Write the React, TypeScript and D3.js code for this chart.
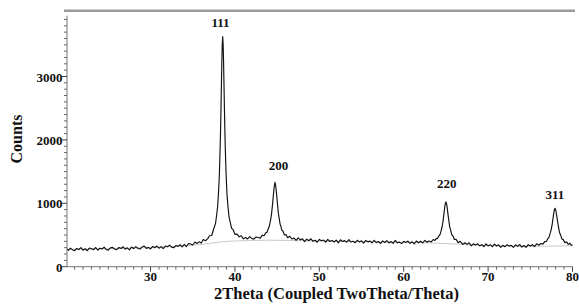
import React from "react";
import * as d3 from "d3";

// diffraction pattern
const twoTheta = [
  20.1, 20.25, 20.5, 20.75, 21.0, 21.25, 21.5, 21.75, 22.0, 22.25, 22.5, 22.75, 23.0, 23.25, 23.5, 23.75,
  24.0, 24.25, 24.5, 24.75, 25.0, 25.25, 25.5, 25.75, 26.0, 26.25, 26.5, 26.75, 27.0, 27.25, 27.5, 27.75,
  28.0, 28.25, 28.5, 28.75, 29.0, 29.25, 29.5, 29.75, 30.0, 30.25, 30.5, 30.75, 31.0, 31.25, 31.5, 31.75,
  32.0, 32.25, 32.5, 32.75, 33.0, 33.25, 33.5, 33.75, 34.0, 34.25, 34.5, 34.75, 35.0, 35.25, 35.5, 35.75,
  36.0, 36.25, 36.5, 36.75, 37.0, 37.25, 37.5, 37.7, 37.85, 37.95, 38.05, 38.15, 38.25, 38.3, 38.35, 38.4,
  38.45, 38.5, 38.55, 38.6, 38.65, 38.7, 38.75, 38.8, 38.85, 38.95, 39.05, 39.15, 39.3, 39.45, 39.6, 39.8,
  40.0, 40.25, 40.5, 40.75, 41.0, 41.25, 41.5, 41.75, 42.0, 42.25, 42.5, 42.75, 43.0, 43.25, 43.45, 43.65,
  43.8, 43.95, 44.05, 44.15, 44.25, 44.35, 44.45, 44.55, 44.65, 44.75, 44.85, 44.95, 45.05, 45.15, 45.25, 45.35,
  45.45, 45.55, 45.7, 45.85, 46.05, 46.25, 46.5, 46.75, 47.0, 47.25, 47.5, 47.75, 48.0, 48.25, 48.5, 48.75,
  49.0, 49.25, 49.5, 49.75, 50.0, 50.25, 50.5, 50.75, 51.0, 51.25, 51.5, 51.75, 52.0, 52.25, 52.5, 52.75,
  53.0, 53.25, 53.5, 53.75, 54.0, 54.25, 54.5, 54.75, 55.0, 55.25, 55.5, 55.75, 56.0, 56.25, 56.5, 56.75,
  57.0, 57.25, 57.5, 57.75, 58.0, 58.25, 58.5, 58.75, 59.0, 59.25, 59.5, 59.75, 60.0, 60.25, 60.5, 60.75,
  61.0, 61.25, 61.5, 61.75, 62.0, 62.25, 62.5, 62.75, 63.0, 63.25, 63.5, 63.7, 63.85, 64.0, 64.15, 64.3,
  64.45, 64.55, 64.65, 64.75, 64.85, 64.92, 65.0, 65.08, 65.15, 65.25, 65.35, 65.45, 65.55, 65.7, 65.85, 66.0,
  66.2, 66.45, 66.7, 67.0, 67.25, 67.5, 67.75, 68.0, 68.25, 68.5, 68.75, 69.0, 69.25, 69.5, 69.75, 70.0,
  70.25, 70.5, 70.75, 71.0, 71.25, 71.5, 71.75, 72.0, 72.25, 72.5, 72.75, 73.0, 73.25, 73.5, 73.75, 74.0,
  74.25, 74.5, 74.75, 75.0, 75.25, 75.5, 75.75, 76.0, 76.25, 76.5, 76.7, 76.9, 77.05, 77.2, 77.35, 77.48,
  77.6, 77.7, 77.8, 77.87, 77.93, 78.0, 78.07, 78.15, 78.25, 78.35, 78.45, 78.6, 78.75, 78.9, 79.1, 79.3,
  79.5, 79.7, 79.85, 80.0,
];

const counts = [
  280, 258, 293, 267, 252, 287, 272, 301, 260, 283, 252, 294, 282, 269, 303, 262,
  291, 279, 310, 271, 261, 297, 304, 279, 268, 303, 288, 314, 276, 298, 266, 311,
  286, 317, 292, 280, 309, 326, 289, 305, 280, 320, 299, 326, 292, 317, 286, 326,
  315, 340, 308, 299, 334, 321, 346, 314, 351, 318, 366, 359, 342, 389, 367, 392,
  373, 428, 409, 438, 488, 492, 603, 683, 831, 949, 1158, 1439, 1891, 2180, 2521, 2891,
  3245, 3511, 3628, 3513, 3248, 2896, 2527, 2188, 1896, 1465, 1163, 987, 784, 697, 609, 579,
  510, 514, 471, 488, 439, 462, 438, 475, 444, 435, 469, 461, 450, 497, 488, 534,
  544, 599, 625, 687, 753, 849, 976, 1123, 1259, 1330, 1258, 1122, 979, 839, 759, 672,
  637, 576, 559, 502, 508, 457, 480, 437, 451, 417, 455, 423, 440, 396, 435, 409,
  441, 400, 417, 386, 430, 409, 420, 389, 431, 398, 412, 389, 420, 377, 424, 398,
  411, 386, 427, 389, 401, 378, 416, 391, 409, 372, 415, 392, 404, 375, 417, 380,
  397, 366, 407, 382, 412, 375, 396, 369, 415, 377, 388, 364, 400, 380, 404, 369,
  393, 360, 405, 377, 402, 374, 415, 386, 404, 390, 429, 415, 444, 444, 482, 507,
  578, 630, 708, 822, 930, 990, 1022, 992, 932, 822, 724, 629, 582, 501, 480, 429,
  430, 379, 400, 352, 378, 352, 378, 329, 360, 344, 362, 329, 347, 318, 359, 328,
  348, 317, 357, 326, 346, 305, 337, 316, 346, 325, 337, 304, 346, 320, 350, 310,
  334, 304, 347, 326, 347, 318, 362, 339, 365, 356, 396, 398, 438, 459, 525, 589,
  675, 775, 862, 905, 920, 900, 855, 787, 698, 620, 544, 495, 437, 427, 380, 391,
  352, 369, 339, 344,
];

// fitted background (light grey)
const bgTheta = [20.1, 22, 24, 26, 28, 30, 32, 34, 36, 37, 38, 39, 40, 42, 44, 46, 48, 50, 52, 54, 56, 58, 60, 62, 64, 66, 68, 70, 72, 74, 76, 78, 80];
const bgCounts = [272, 277, 282, 288, 295, 303, 314, 330, 352, 368, 385, 398, 406, 414, 418, 415, 410, 405, 400, 396, 392, 388, 384, 380, 371, 359, 342, 333, 325, 320, 322, 326, 330];

const peakLabels = ["111", "200", "220", "311"];
const labelTheta = [38.3, 45.15, 65.1, 77.9];
const labelCounts = [3781, 1525, 1241, 1065];

const xTickValues = [30, 40, 50, 60, 70, 80];
const yTickValues = [0, 1000, 2000, 3000];

const W = 579;
const H = 305;
const serif = "'Liberation Serif', 'Times New Roman', serif";

export default function App() {
  const x = d3.scaleLinear().domain([20.1, 80]).range([67, 572.5]);
  const y = d3.scaleLinear().domain([0, 4000]).range([266.7, 13.1]);

  const pts = twoTheta.map((t, i) => [t, counts[i]] as [number, number]);
  const bgPts = bgTheta.map((t, i) => [t, bgCounts[i]] as [number, number]);

  const line = d3.line<[number, number]>().x((d) => x(d[0])).y((d) => y(d[1]));
  const bgLine = d3
    .line<[number, number]>()
    .x((d) => x(d[0]))
    .y((d) => y(d[1]))
    .curve(d3.curveMonotoneX);

  const xMinor = d3.range(21, 80.5, 1).filter((v) => !xTickValues.includes(v));
  const yMinor = d3.range(100, 3960, 100).filter((v) => !yTickValues.includes(v));
  const x0 = x(20.1);
  const yBase = y(0);

  return (
    <svg width={W} height={H} style={{ position: "absolute", left: 0, top: 0, background: "#fff" }}>
      <line x1={64} x2={575} y1={10.8} y2={10.8} stroke="#9a9a9a" strokeWidth={2.5} />

      <path d={bgLine(bgPts) || ""} fill="none" stroke="#c9c9c9" strokeWidth={1} />
      <path d={line(pts) || ""} fill="none" stroke="#111" strokeWidth={1.15} strokeLinejoin="round" />

      {/* axes */}
      <line x1={x0} x2={x0} y1={yBase} y2={y(3960)} stroke="#777" />
      <line x1={x0} x2={x(80)} y1={yBase} y2={yBase} stroke="#777" />
      {yMinor.map((v) => (
        <line key={"ym" + v} x1={x0 - 3} x2={x0} y1={y(v)} y2={y(v)} stroke="#666" />
      ))}
      {yTickValues.map((v) => (
        <g key={"y" + v}>
          <line x1={x0 - 5} x2={x0} y1={y(v)} y2={y(v)} stroke="#444" />
          <text x={x0 - 4.5} y={y(v) + 5} textAnchor="end" fontFamily={serif} fontWeight="bold" fontSize={13} fill="#111">
            {v}
          </text>
        </g>
      ))}
      {xMinor.map((v) => (
        <line key={"xm" + v} x1={x(v)} x2={x(v)} y1={yBase} y2={yBase + 3} stroke="#666" />
      ))}
      {xTickValues.map((v) => (
        <g key={"x" + v}>
          <line x1={x(v)} x2={x(v)} y1={yBase} y2={yBase + 5} stroke="#444" />
          <text x={x(v)} y={280.5} textAnchor="middle" fontFamily={serif} fontWeight="bold" fontSize={13} fill="#111">
            {v}
          </text>
        </g>
      ))}

      {peakLabels.map((l, i) => (
        <text key={l} x={x(labelTheta[i])} y={y(labelCounts[i])} textAnchor="middle" fontFamily={serif} fontWeight="bold" fontSize={13} fill="#111">
          {l}
        </text>
      ))}

      <text x={336.5} y={299} textAnchor="middle" fontFamily={serif} fontWeight="bold" fontSize={16.5} fill="#111">
        2Theta (Coupled TwoTheta/Theta)
      </text>
      <text transform="translate(22,139) rotate(-90)" textAnchor="middle" fontFamily={serif} fontWeight="bold" fontSize={16} fill="#111">
        Counts
      </text>
    </svg>
  );
}
